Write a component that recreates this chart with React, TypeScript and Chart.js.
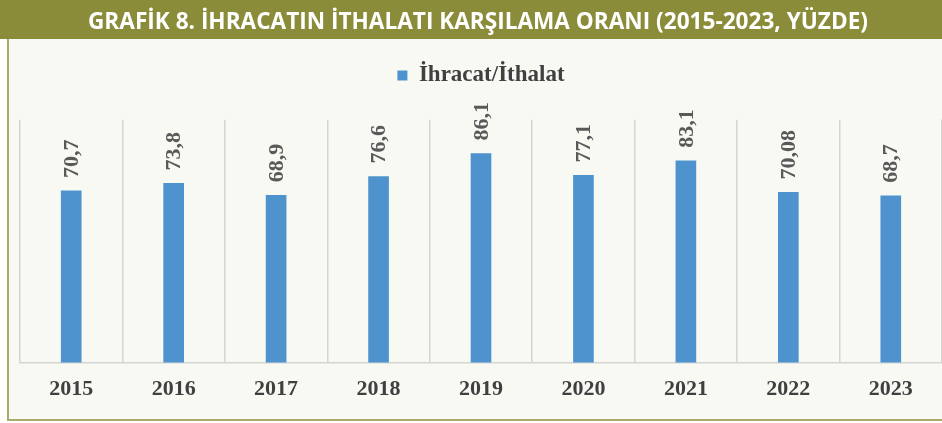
import React, { useEffect, useRef } from "react";
import { Chart, registerables } from "chart.js";

Chart.register(...registerables);

const TITLE = "GRAFİK 8. İHRACATIN İTHALATI KARŞILAMA ORANI (2015-2023, YÜZDE)";
const SERIES_LABEL = "İhracat/İthalat";
const YEARS = ["2015", "2016", "2017", "2018", "2019", "2020", "2021", "2022", "2023"];
const RATIO = [70.7, 73.8, 68.9, 76.6, 86.1, 77.1, 83.1, 70.08, 68.7];
const Y_MIN = 0;
const Y_MAX = 100;

const SERIF = "'Liberation Serif', 'Times New Roman', serif";

const fmt = (v: number) => String(v).replace(".", ",");

export default function App() {
  const canvasRef = useRef<HTMLCanvasElement | null>(null);

  useEffect(() => {
    if (!canvasRef.current) return;

    const framePlugin = {
      id: "frame",
      beforeDraw(chart: any) {
        const ctx = chart.ctx;
        const w = chart.width;
        const h = chart.height;
        ctx.save();
        ctx.fillStyle = "#ffffff";
        ctx.fillRect(0, 0, w, h);
        ctx.fillStyle = "#f9f9f4";
        ctx.fillRect(7, 39, w - 7, 381);
        ctx.fillStyle = "#a9aa6c";
        ctx.fillRect(7, 39, 2, 382);
        ctx.fillRect(7, 419, w - 7, 2);
        ctx.fillStyle = "#8b8c39";
        ctx.fillRect(0, 0, w, 39);
        ctx.fillStyle = "#ffffff";
        ctx.font = "bold 24px 'Open Sans', 'Noto Sans', sans-serif";
        ctx.textAlign = "left";
        ctx.textBaseline = "alphabetic";
        const tw = ctx.measureText(TITLE).width;
        ctx.translate(88, 28.5);
        ctx.scale(780 / tw, 1);
        ctx.fillText(TITLE, 0, 0);
        ctx.restore();
      },
    };

    const labelPlugin = {
      id: "valueLabels",
      afterDatasetsDraw(chart: any) {
        const ctx = chart.ctx;
        const meta = chart.getDatasetMeta(0);
        meta.data.forEach((bar: any, i: number) => {
          ctx.save();
          ctx.translate(bar.x + 1, bar.y - 13);
          ctx.rotate(-Math.PI / 2);
          ctx.fillStyle = "rgba(249,249,244,0.01)";
          ctx.fillRect(0, 12, 40, 1);
          ctx.fillStyle = "#595959";
          ctx.font = `bold 22px ${SERIF}`;
          ctx.textAlign = "left";
          ctx.textBaseline = "middle";
          ctx.fillText(fmt(RATIO[i]), 0, 0);
          ctx.restore();
        });
      },
    };

    const chart = new Chart(canvasRef.current, {
      type: "bar",
      data: {
        labels: YEARS,
        datasets: [
          {
            label: SERIES_LABEL,
            data: RATIO,
            backgroundColor: "#4e93cd",
            borderWidth: 0,
            barThickness: 20,
          },
        ],
      },
      options: {
        responsive: false,
        animation: false,
        layout: { padding: { top: 50, left: 20, right: 2, bottom: 6 } },
        plugins: {
          legend: {
            display: true,
            position: "top",
            weight: 3000,
            labels: {
              boxWidth: 10,
              boxHeight: 10,
              padding: 14,
              color: "#404040",
              font: { family: SERIF, size: 23, weight: "bold" },
            },
          },
          title: {
            display: true,
            text: " ",
            font: { size: 9 },
            padding: { top: 6, bottom: 6 },
          },
        },
        scales: {
          x: {
            grid: {
              display: true,
              offset: true,
              drawTicks: false,
              color: "#d4d4d4",
              lineWidth: 1.5,
            },
            border: { display: true, color: "#d4d4d4", width: 1.5 },
            ticks: {
              padding: 14,
              color: "#404040",
              font: { family: SERIF, size: 22, weight: "bold" },
            },
          },
          y: {
            display: false,
            min: Y_MIN,
            max: Y_MAX,
          },
        },
      },
      plugins: [framePlugin, labelPlugin],
    } as any);
    return () => chart.destroy();
  }, []);

  return (
    <div style={{ position: "absolute", left: 0, top: 0, width: 942, height: 423, overflow: "hidden" }}>
      <canvas ref={canvasRef} width={944} height={423} style={{ position: "absolute", left: 0, top: 0 }} />
    </div>
  );
}
